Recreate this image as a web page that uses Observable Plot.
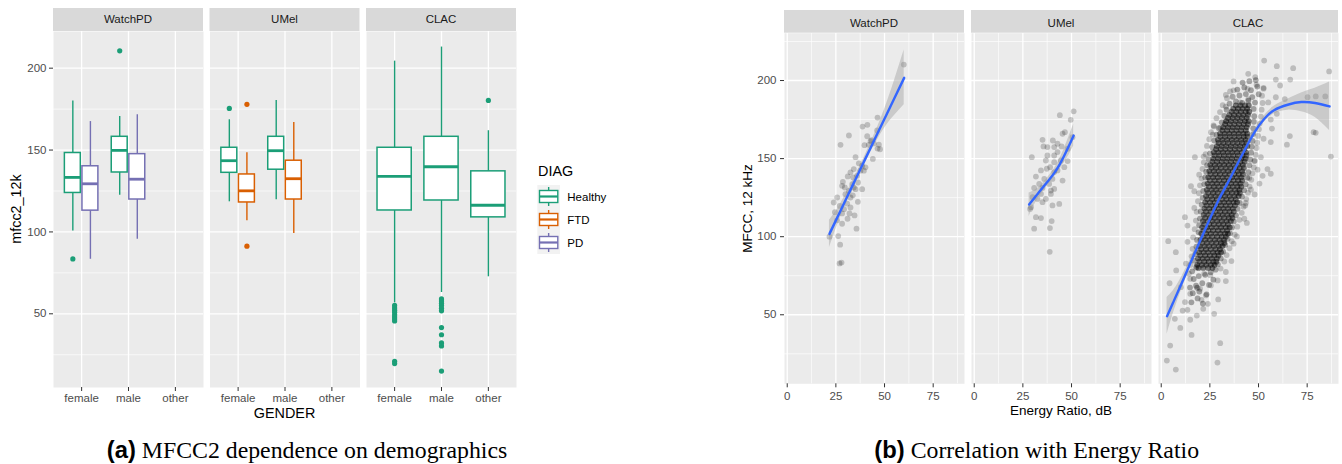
<!DOCTYPE html>
<html><head><meta charset="utf-8">
<script src="https://cdn.jsdelivr.net/npm/d3@7"></script>
<script src="https://cdn.jsdelivr.net/npm/@observablehq/plot@0.6"></script>
<style>
html,body{margin:0;padding:0;background:#fff;}
body{width:1342px;height:464px;overflow:hidden;position:relative;font-family:"Liberation Sans",Arial,sans-serif;}
#a{position:absolute;left:0;top:0;}
#b{position:absolute;left:700px;top:0;}
#legend{position:absolute;left:530px;top:150px;}
#caps{position:absolute;left:0;top:0;}
</style></head>
<body>
<div id="a"></div>
<div id="b"></div>
<svg id="legend" width="110" height="115"></svg>
<svg id="caps" width="1342" height="464"></svg>
<script>
// ---------------- data ----------------
const datasets = ["WatchPD", "UMel", "CLAC"];
const genders = ["female", "male", "other"];
const diags = ["Healthy", "FTD", "PD"];
const diagColors = ["#1B9E77", "#D95F02", "#7570B3"];

// dataset, gender, diag, lower whisker, q1, median, q3, upper whisker
const boxStats = [
  ["WatchPD", "female", "Healthy", 100.6, 123.8, 133.3, 148.2, 180.0],
  ["WatchPD", "female", "PD",       83.3, 113.0, 129.4, 140.1, 167.4],
  ["WatchPD", "male",   "Healthy", 122.4, 136.3, 149.8, 158.1, 170.5],
  ["WatchPD", "male",   "PD",       95.6, 119.8, 132.2, 147.5, 171.5],
  ["UMel",    "female", "Healthy", 118.4, 136.1, 143.5, 151.4, 168.5],
  ["UMel",    "female", "FTD",     106.8, 118.0, 125.1, 135.1, 148.3],
  ["UMel",    "male",   "Healthy", 119.6, 138.0, 149.6, 158.1, 180.3],
  ["UMel",    "male",   "FTD",      99.0, 119.8, 132.5, 143.5, 166.9],
  ["CLAC",    "female", "Healthy",  56.7, 113.1, 133.9, 151.4, 204.3],
  ["CLAC",    "male",   "Healthy",  63.0, 119.2, 139.8, 158.1, 212.9],
  ["CLAC",    "other",  "Healthy",  72.6, 108.9, 116.3, 137.0, 161.8]
];
// dataset, gender, diag, value
const outlierStats = [
  ["WatchPD", "female", "Healthy", 83.5],
  ["WatchPD", "male", "Healthy", 210.6],
  ["UMel", "female", "Healthy", 175.4],
  ["UMel", "female", "FTD", 177.9],
  ["UMel", "female", "FTD", 91.3],
  ["CLAC", "female", "Healthy", 55.1], ["CLAC", "female", "Healthy", 53.6],
  ["CLAC", "female", "Healthy", 52.2], ["CLAC", "female", "Healthy", 50.9],
  ["CLAC", "female", "Healthy", 49.4], ["CLAC", "female", "Healthy", 48.1],
  ["CLAC", "female", "Healthy", 46.8], ["CLAC", "female", "Healthy", 45.6],
  ["CLAC", "female", "Healthy", 21.0], ["CLAC", "female", "Healthy", 19.6],
  ["CLAC", "male", "Healthy", 59.1], ["CLAC", "male", "Healthy", 57.8],
  ["CLAC", "male", "Healthy", 56.4], ["CLAC", "male", "Healthy", 55.0],
  ["CLAC", "male", "Healthy", 53.4], ["CLAC", "male", "Healthy", 51.8],
  ["CLAC", "male", "Healthy", 41.6], ["CLAC", "male", "Healthy", 37.2],
  ["CLAC", "male", "Healthy", 32.2], ["CLAC", "male", "Healthy", 30.4],
  ["CLAC", "male", "Healthy", 15.0],
  ["CLAC", "other", "Healthy", 180.3]
];

// Energy ratio (dB) vs MFCC 12 kHz scatter points
const watchPts = [[59.9,210.2],[46.4,176.3],[38.7,170.5],[41.2,171.6],[31.7,164.8],[41.1,164.3],[27.4,158.8],[39.7,158.6],[42.8,161.2],[44.5,159.7],[47.1,158.9],[46.4,156.4],[47.7,156],[41.9,158.8],[35.1,150.9],[44,149.8],[38.5,145.5],[37.6,142.3],[40.2,144.4],[35.9,139],[33.9,137.9],[31.1,138.6],[28.6,135.1],[28.2,132.6],[33.4,133.7],[36.4,134.7],[38.5,130.4],[35.1,130.4],[31.7,129.3],[29.9,127.2],[33.7,126.5],[36.3,122.3],[23.9,121.9],[27,119.7],[30.8,121.2],[32.5,118.7],[24.5,115.7],[28.2,114.9],[32,114.9],[34.6,113.6],[31,111.5],[28.2,108.3],[35.6,105.1],[21.7,100],[26.2,100.4],[27.2,94.9],[26.9,82.9],[27.9,83.4],[34.2,143.3],[32.5,141.2],[36.8,147],[39.4,142.3],[29.6,131.5],[34.2,131.5],[25.7,125.1],[32.5,125.1],[29.2,117.6],[25.6,110.5],[46.2,168],[43.3,161.8]];
const umelPts = [[51.1,180.3],[44,177.8],[49.6,174.8],[46.6,166.9],[45.4,165.9],[50.5,163.7],[35.1,162],[40.4,161.6],[42.8,159.5],[35.6,157.8],[41.1,157.4],[44.9,157.8],[48,156.3],[41.1,152],[37.6,152],[29.6,150.9],[36.8,148.8],[41.1,147.7],[44.5,148.8],[48,148.4],[39,144.5],[37.3,143.5],[34.3,142.4],[41.1,141.4],[42.8,142.4],[31.7,138.5],[36,137],[40.2,137],[45.4,135.9],[33.4,133.8],[38.5,133.8],[30.8,131.2],[35.1,131.2],[41.1,130.6],[39.4,127.4],[34.3,127.4],[30,125.3],[32.5,124.2],[36.8,124.2],[43.7,121],[40.2,120],[29.2,118.9],[35.1,122.1],[31.7,112.5],[34.3,111.9],[39.8,110],[30.8,105.1],[38.9,105.5],[38.8,90.3],[46.3,144.5],[37.6,157.4],[42.8,154.2],[28.7,117.8],[39.4,129.5]];
const clacPts = [[52.9,212.8],[59.4,209.2],[67.8,207.9],[86.3,205.8],[44.7,204.3],[48.3,202.2],[37.2,199.4],[58.9,200.6],[66.3,200.6],[61.1,196.8],[52.6,195.3],[49,197.3],[44.4,194.7],[37.2,193.7],[33.2,190.8],[75.2,189.3],[79.4,189.8],[84.3,189.8],[63.5,188.1],[58.9,189.3],[55,186],[44.7,188.1],[40.6,186],[33.2,183.3],[59.4,178.7],[56.3,175],[56.9,169.2],[78.3,166.9],[79.4,166.5],[66.1,164.4],[52.6,162.7],[56.3,160.6],[64.6,158.9],[87.2,151.3],[51.2,150.9],[47.8,148.4],[17.3,150.9],[21.8,151.3],[54.6,143.3],[49.5,142.9],[52.1,139],[45.2,137.6],[46.1,130.1],[43.5,121.6],[15.3,132.3],[17,129.1],[19.5,139.7],[26.4,165.4],[26.9,171.2],[30.3,169.7],[33.2,173.9],[56.3,140.3],[50.5,134],[48,127],
  [3.6,97.1],[7.5,90.1],[7.7,78.4],[4.3,70.2],[7,47.4],[9.8,41.6],[15.6,37.1],[4.6,30.3],[2.9,20.7],[7.5,14.9],[28.9,19.4],[30.3,31.8],[27.2,50.6],[29.3,59.8],[18.3,49.5],[14.9,46.8],[11,52.7],[13.5,53.2],[12.2,58.1],[21.6,53.8],[24,57],[20.7,59.6],[23,62.4],[14.9,63.4],[10.1,67.7],[18.3,67.3],[25.5,68.8],[29,72],[33.2,71.6],[33.2,77.4],[36.1,84.4],[37.2,95.5],[38.9,100.2],[42.7,111.5],[44,108.8],[43.2,119.9],[13.5,96.7],[12.7,82.8],[14.9,73],[18.7,67.3],[20,66.6],[17.8,80],[22.1,76.4],[25.2,75.3],[12.2,112.5],[13.5,107.1],[17,118.4],
  [14.2,76.3],[15.1,81.9],[15.6,87.4],[16.1,92.2],[16.4,99.6],[17.2,104.8],[17.8,110.3],[18.2,115.9],[18.9,122.7],[19.4,127.8],[19.9,132.9],[20.7,137.2],[21.2,143.4],[21.9,147.6],[22.8,152.8],[23.5,158.1],[24.7,162.4],[25.6,166.9],[27.1,170.6],[28.4,175.9],[30.2,179.8],[31.6,184.2],[33.8,188.7],[35.4,193.1],
  [30.5,79.6],[32.4,84.1],[33.6,88.2],[35.1,92.6],[36.3,97.1],[37.8,101.3],[39.1,106.4],[40.2,110.8],[41.4,115.3],[42.3,119.2],[43.7,124.1],[44.6,128.2],[45.4,132.1],[46.3,136.4],[46.9,140.6],[47.6,144.3],[48.1,148.7],[48.6,152.4],[49,156.8],[49.3,160.2],[49.8,164.5],[50.2,168.8],[50.6,172.4],[51.2,176.9],[51.6,181.3],[52.1,185.6],[51.8,190.3],[52.6,194.8]];
// CLAC: band of overlapping points around the dense core
const clacMid = [[15.5,58],[18.7,60.5],[21.4,57.2],[16.2,63.8],[19.6,64.9],[23.3,63.1],[14.8,67.4],[17.9,68.6],[21.1,70.2],[24.6,69.1],[26.8,72.5],[16.7,72.9],[19.3,74.8],[22.6,75.6],[25.4,77.3],[27.9,78.9],[15.9,77.8],[18.2,80.6],[16.8,84.7],[29.1,82.3],[30.6,86.1],[17.6,88.9],[31.8,90.4],[18.1,93.6],[32.9,94.7],[18.4,97.9],[34.1,98.6],[35.3,102.2],[19.2,102.8],[36.4,105.9],[19.5,107.4],[37.3,109.8],[19.9,111.6],[38.4,113.7],[20.3,116.2],[39.2,117.9],[20.8,120.4],[40.4,121.6],[21.3,124.9],[41.5,125.7],[21.6,129.3],[42.6,129.8],[22.1,133.7],[43.4,133.6],[22.6,137.9],[44.2,137.8],[23.1,141.6],[44.8,141.3],[23.6,145.8],[45.3,145.7],[24.4,149.6],[45.8,149.4],[25.1,153.4],[46.2,153.8],[26.2,157.3],[46.5,157.6],[27.3,161.6],[46.9,161.3],[28.4,165.4],[47.2,165.7],[29.6,169.5],[47.3,169.4],[31.1,173.2],[47.6,173.6],[32.4,177.4],[47.8,177.2],[33.6,181.3],[47.5,181.8],[35.1,185.2],[38.4,186.6],[41.6,185.7],[44.8,187.1],[48.2,185.9],[36.7,189.6],[40.2,190.4],[43.5,191.3],[46.8,189.4],[50.1,191.2],[39.1,194.2],[42.7,195.6],[46.1,193.8],[49.4,196.1],[41.8,198.7],[45.3,199.6],[48.6,200.3]];
// CLAC dense core, by rows: [MFCC, energy ratio values...]
const clacCoreRows = [
  [80, 19.2, 21.6, 24.1, 26.3], [82, 18.5, 20.9, 23.2, 25.6, 27.4], [84, 19.6, 22.1, 24.4, 26.8, 28.3],
  [86, 18.9, 21.3, 23.7, 26.1, 28.6], [88, 20.1, 22.6, 25, 27.3, 29.4], [90, 19.4, 21.8, 24.2, 26.7, 29, 30.8],
  [92, 20.5, 23, 25.4, 27.9, 30.2], [94, 19.8, 22.3, 24.7, 27.1, 29.6, 31.5], [96, 20.9, 23.4, 25.9, 28.3, 30.7, 32.4],
  [98, 20.2, 22.7, 25.1, 27.6, 30, 32.3], [100, 21.3, 23.8, 26.2, 28.7, 31.1, 33.2], [102, 20.6, 23.1, 25.5, 28, 30.4, 32.8, 34.3],
  [104, 21.7, 24.2, 26.6, 29.1, 31.5, 33.9], [106, 21, 23.5, 25.9, 28.4, 30.8, 33.2, 35.2], [108, 22.1, 24.6, 27, 29.5, 31.9, 34.3],
  [110, 21.4, 23.9, 26.3, 28.8, 31.2, 33.6, 35.8], [112, 22.5, 25, 27.4, 29.9, 32.3, 34.7, 36.6], [114, 21.8, 24.3, 26.7, 29.2, 31.6, 34, 36.3],
  [116, 22.9, 25.4, 27.8, 30.3, 32.7, 35.1, 37.3], [118, 22.2, 24.7, 27.1, 29.6, 32, 34.4, 36.8], [120, 23.3, 25.8, 28.2, 30.7, 33.1, 35.5, 37.9],
  [122, 22.6, 25.1, 27.5, 30, 32.4, 34.8, 37.2, 39], [124, 23.7, 26.2, 28.6, 31.1, 33.5, 35.9, 38.3], [126, 23, 25.5, 27.9, 30.4, 32.8, 35.2, 37.6, 39.8],
  [128, 24.1, 26.6, 29, 31.5, 33.9, 36.3, 38.7, 40.4], [130, 23.4, 25.9, 28.3, 30.8, 33.2, 35.6, 38, 40.2], [132, 24.5, 27, 29.4, 31.9, 34.3, 36.7, 39.1, 41.1],
  [134, 23.8, 26.3, 28.7, 31.2, 33.6, 36, 38.4, 40.7], [136, 24.9, 27.4, 29.8, 32.3, 34.7, 37.1, 39.5, 41.6], [138, 24.2, 26.7, 29.1, 31.6, 34, 36.4, 38.8, 41.2],
  [140, 25.3, 27.8, 30.2, 32.7, 35.1, 37.5, 39.9, 42], [142, 24.7, 27.1, 29.5, 32, 34.4, 36.8, 39.2, 41.6], [144, 25.8, 28.2, 30.6, 33.1, 35.5, 37.9, 40.3, 42.5],
  [146, 25.2, 27.6, 30, 32.4, 34.8, 37.2, 39.6, 42], [148, 26.3, 28.7, 31.1, 33.5, 35.9, 38.3, 40.7, 42.9], [150, 26.8, 29.2, 31.6, 34, 36.4, 38.8, 41.2, 43.3],
  [152, 27.4, 29.8, 32.2, 34.6, 37, 39.4, 41.8, 43.8], [154, 27, 29.4, 31.8, 34.2, 36.6, 39, 41.4, 43.6], [156, 28.2, 30.6, 33, 35.4, 37.8, 40.2, 42.6],
  [158, 28.6, 31, 33.4, 35.8, 38.2, 40.6, 43, 44.3], [160, 29.5, 31.9, 34.3, 36.7, 39.1, 41.5, 43.7], [162, 29.1, 31.5, 33.9, 36.3, 38.7, 41.1, 43.4],
  [164, 30.4, 32.8, 35.2, 37.6, 40, 42.4, 44.4], [166, 30.2, 32.6, 35, 37.4, 39.8, 42.2, 44.2], [168, 31.5, 33.9, 36.3, 38.7, 41.1, 43.5],
  [170, 31.9, 34.3, 36.7, 39.1, 41.5, 43.9], [172, 32.8, 35.2, 37.6, 40, 42.4, 44.6], [174, 33.4, 35.8, 38.2, 40.6, 43, 44.9],
  [176, 34.3, 36.7, 39.1, 41.5, 43.9], [178, 35, 37.4, 39.8, 42.2, 44.6], [180, 36.2, 38.6, 41, 43.4, 45.2],
  [182, 37, 39.4, 41.8, 44.2], [184, 38.3, 40.7, 43.1, 45]
];
// smooth fits: [x, fit, lower, upper]
const watchSmooth = [[21.7,101.8,93,110.5],[26,113,108,118],[30,123.5,120,127],[35,136.5,134,139],[40,149.5,147,152],[45,162.5,159,166],[50,175.5,169.5,181.5],[55,188.5,177.5,199.5],[60.1,201.7,184.5,219.5]];
const umelSmooth = [[28.2,120.6,113,128],[31,125,120.5,129.5],[34.3,130,127,133],[37.5,135,132.5,137.5],[41.1,140.7,138,143.4],[44,146.5,143,150],[46.3,152,147.5,156.5],[48.8,158.5,152.5,164.5],[51.1,164.8,158,172]];
const clacSmooth = [[3,49.1,37.5,61],[6,57.5,50,65],[10,68.7,64.5,73],[16,86,83.5,88.5],[22,103,101,105],[29.3,123,121.5,124.5],[34,134,132.5,135.5],[41,151,149.5,152.5],[48,167,165.3,168.7],[53,175.5,173.5,177.5],[58,181,178.5,183.5],[65,184.5,181,188],[72,186.2,180,192],[79,185.6,176.5,195],[86.5,183.4,168,199]];

const yTicksA = [50, 100, 150, 200], yMinorA = [25, 75, 125, 175];
const xTicksB = [0, 25, 50, 75], xMinorB = [12.5, 37.5, 62.5, 87.5];
const yTicksB = [50, 100, 150, 200], yMinorB = [25, 75, 125, 175, 225];

// ---------------- tables ----------------
const boxes = boxStats.map(([dataset, gender, diag, lo, q1, med, q3, hi]) => ({dataset, gender, diag, lo, q1, med, q3, hi}));
boxes.forEach(b => {
  const grp = boxes.filter(o => o.dataset === b.dataset && o.gender === b.gender)
    .sort((p, q) => diags.indexOf(p.diag) - diags.indexOf(q.diag));
  const n = grp.length, k = grp.indexOf(b);
  const pos = genders.indexOf(b.gender) + 1;
  b.cx = pos + (n === 1 ? 0 : (k - (n - 1) / 2) * 0.375);
  const hw = n === 1 ? 0.365 : 0.17;
  b.x1 = b.cx - hw; b.x2 = b.cx + hw;
});
const outliers = outlierStats.map(([dataset, gender, diag, v]) => {
  const b = boxes.find(o => o.dataset === dataset && o.gender === gender && o.diag === diag);
  return {dataset, diag, cx: b.cx, v};
});
const tag = (name, arr) => arr.map(([x, y]) => ({dataset: name, x, y}));
const rowsToPts = rows => rows.flatMap(([y, ...xs]) => xs.map(x => [x, y]));
const scatter = [...tag("WatchPD", watchPts), ...tag("UMel", umelPts), ...tag("CLAC", clacPts)];
const midPts = tag("CLAC", clacMid);
const corePts = tag("CLAC", rowsToPts(clacCoreRows));
const tagS = (name, arr) => arr.map(([x, y, lo, hi]) => ({dataset: name, x, y, lo, hi}));
const smooth = [...tagS("WatchPD", watchSmooth), ...tagS("UMel", umelSmooth), ...tagS("CLAC", clacSmooth)];

const FONT = "Liberation Sans, Arial, Helvetica, sans-serif";
const plotStyle = {fontFamily: FONT, background: "none", maxWidth: "none", overflow: "visible"};
const minor = {stroke: "white", strokeOpacity: 1, strokeWidth: 0.65};
const major = {stroke: "white", strokeOpacity: 1, strokeWidth: 1.3};
const axisStyle = {tickSize: 4, fontSize: 11.5, color: "#4d4d4d", stroke: "#333333", label: null};

// ---------------- chart (a) ----------------
const chartA = Plot.plot({
  width: 530, height: 425,
  marginLeft: 53, marginRight: 14, marginTop: 31, marginBottom: 38,
  style: plotStyle,
  fx: {domain: datasets, paddingInner: 0.0415, paddingOuter: 0, round: false, axis: null, label: null},
  x: {domain: [0.4, 3.6], axis: null},
  y: {domain: [5, 222.4], axis: null},
  color: {domain: diags, range: diagColors},
  marks: [
    Plot.frame({fill: "#ebebeb", stroke: null}),
    Plot.gridY(yMinorA, minor),
    Plot.gridY(yTicksA, major),
    Plot.gridX([1, 2, 3], major),
    Plot.ruleX(boxes, {fx: "dataset", x: "cx", y1: "lo", y2: "q1", stroke: "diag", strokeWidth: 1.4}),
    Plot.ruleX(boxes, {fx: "dataset", x: "cx", y1: "q3", y2: "hi", stroke: "diag", strokeWidth: 1.4}),
    Plot.rect(boxes, {fx: "dataset", x1: "x1", x2: "x2", y1: "q1", y2: "q3", fill: "white", stroke: "diag", strokeWidth: 1.5}),
    Plot.ruleY(boxes, {fx: "dataset", x1: "x1", x2: "x2", y: "med", stroke: "diag", strokeWidth: 2.8}),
    Plot.dot(outliers, {fx: "dataset", x: "cx", y: "v", r: 2.6, fill: "diag", stroke: null}),
    Plot.axisY(yTicksA, {...axisStyle, tickPadding: 3, anchor: "left", facetAnchor: "left"}),
    Plot.axisX([1, 2, 3], {...axisStyle, tickPadding: 2, anchor: "bottom", tickFormat: d => genders[d - 1]})
  ]
});
document.getElementById("a").appendChild(chartA);

// ---------------- chart (b) ----------------
const chartB = Plot.plot({
  width: 642, height: 425,
  marginLeft: 84, marginRight: 4, marginTop: 32.7, marginBottom: 41.7,
  style: plotStyle,
  fx: {domain: datasets, paddingInner: 0.0374, paddingOuter: 0, round: false, axis: null, label: null},
  x: {domain: [-1.4, 91.1], axis: null},
  y: {domain: [5.8, 230.3], axis: null},
  marks: [
    Plot.frame({fill: "#ebebeb", stroke: null}),
    Plot.gridX(xMinorB, minor),
    Plot.gridY(yMinorB, minor),
    Plot.gridX(xTicksB, major),
    Plot.gridY(yTicksB, major),
    Plot.dot(scatter, {fx: "dataset", x: "x", y: "y", r: 2.9, fill: "black", fillOpacity: 0.2, stroke: null}),
    Plot.dot(midPts, {fx: "dataset", x: "x", y: "y", r: 2.9, fill: "black", fillOpacity: 0.32, stroke: null}),
    Plot.dot(corePts, {fx: "dataset", x: "x", y: "y", r: 2.9, fill: "black", fillOpacity: 0.5, stroke: null}),
    Plot.areaY(smooth, {fx: "dataset", x: "x", y1: "lo", y2: "hi", fill: "#999999", fillOpacity: 0.4, curve: "natural"}),
    Plot.line(smooth, {fx: "dataset", x: "x", y: "y", stroke: "#3366FF", strokeWidth: 2.4, curve: "natural"}),
    Plot.axisY(yTicksB, {...axisStyle, tickPadding: 4, anchor: "left", facetAnchor: "left"}),
    Plot.axisX(xTicksB, {...axisStyle, tickPadding: 4, anchor: "bottom"})
  ]
});
document.getElementById("b").appendChild(chartB);

// ---------------- strips & axis titles ----------------
function addStrips(chart, top, h, baseline) {
  const fxs = chart.scale("fx");
  const svg = d3.select(chart);
  const g = svg.append("g");
  datasets.forEach((d, i) => {
    const x0 = fxs.apply ? fxs.apply(d) : fxs.range[0] + i * fxs.step;
    g.append("rect").attr("x", x0).attr("y", top).attr("width", fxs.bandwidth).attr("height", h).attr("fill", "#d9d9d9");
    g.append("text").attr("x", x0 + fxs.bandwidth / 2).attr("y", baseline).attr("text-anchor", "middle")
      .attr("font-family", FONT).attr("font-size", 11.5).attr("fill", "#1a1a1a").text(d);
  });
  return svg;
}
const sA = addStrips(chartA, 8, 23, 23.3);
const sB = addStrips(chartB, 10, 22.7, 26.5);
sA.append("text").attr("transform", "translate(21,209) rotate(-90)").attr("text-anchor", "middle")
  .attr("font-family", FONT).attr("font-size", 14.4).attr("fill", "#000").text("mfcc2_12k");
sA.append("text").attr("x", 284.5).attr("y", 418).attr("text-anchor", "middle")
  .attr("font-family", FONT).attr("font-size", 14.4).attr("fill", "#000").text("GENDER");
sB.append("text").attr("transform", "translate(51.5,208.5) rotate(-90)").attr("text-anchor", "middle")
  .attr("font-family", FONT).attr("font-size", 13.5).attr("fill", "#000").text("MFCC, 12 kHz");
sB.append("text").attr("x", 361).attr("y", 414.5).attr("text-anchor", "middle")
  .attr("font-family", FONT).attr("font-size", 13.5).attr("fill", "#000").text("Energy Ratio, dB");

// ---------------- legend ----------------
const lg = d3.select("#legend");
lg.append("text").attr("x", 8).attr("y", 26).attr("font-family", FONT).attr("font-size", 14.4).attr("fill", "#000").text("DIAG");
diags.forEach((d, i) => {
  const y0 = 35 + i * 23, cy = y0 + 11.5, c = diagColors[i];
  lg.append("rect").attr("x", 7.3).attr("y", y0).attr("width", 22.7).attr("height", 23).attr("fill", "#f2f2f2");
  lg.append("line").attr("x1", 18.65).attr("x2", 18.65).attr("y1", cy - 9.5).attr("y2", cy + 9.5).attr("stroke", c).attr("stroke-width", 1.4);
  lg.append("rect").attr("x", 9.5).attr("y", cy - 6).attr("width", 18.3).attr("height", 12).attr("fill", "white").attr("stroke", c).attr("stroke-width", 1.4);
  lg.append("line").attr("x1", 9.5).attr("x2", 27.8).attr("y1", cy).attr("y2", cy).attr("stroke", c).attr("stroke-width", 2.2);
  lg.append("text").attr("x", 37.3).attr("y", cy + 4.1).attr("font-family", FONT).attr("font-size", 11.5).attr("fill", "#000").text(d);
});

// ---------------- captions ----------------
const caps = d3.select("#caps");
[["(a)", " MFCC2 dependence on demographics", 307], ["(b)", " Correlation with Energy Ratio", 1036.7]].forEach(([lab, txt, cx]) => {
  const t = caps.append("text").attr("x", cx).attr("y", 458).attr("text-anchor", "middle")
    .attr("font-family", "Liberation Serif, Times New Roman, serif").attr("font-size", 23.8).attr("fill", "#000");
  t.append("tspan").attr("font-family", FONT).attr("font-weight", "bold").text(lab);
  t.append("tspan").text(txt);
});
</script>
</body></html>
